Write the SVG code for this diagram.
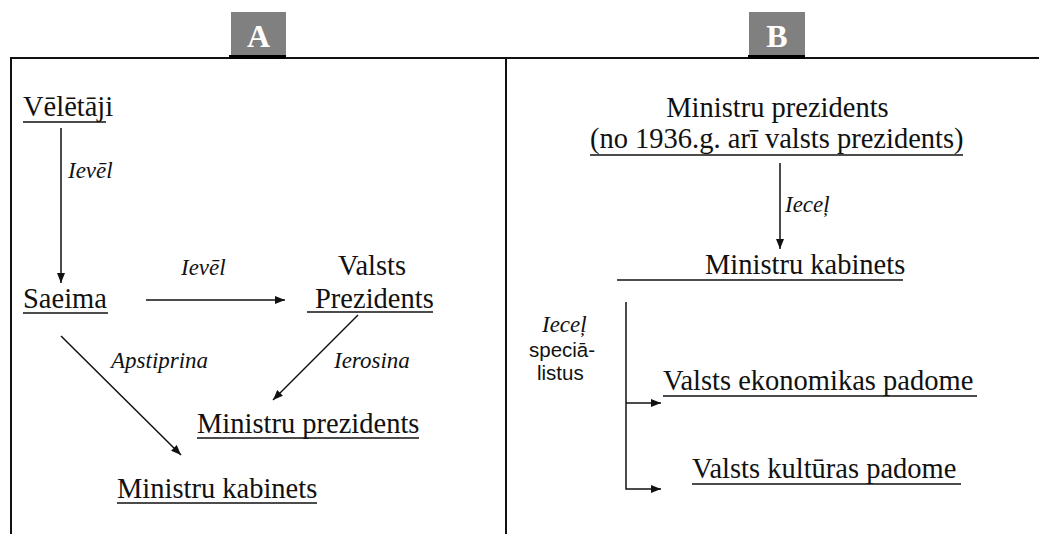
<svg xmlns="http://www.w3.org/2000/svg" width="1039" height="534" viewBox="0 0 1039 534">
<defs>
<marker id="ah" viewBox="0 0 10 8" refX="10" refY="4" markerWidth="10" markerHeight="8" markerUnits="userSpaceOnUse" orient="auto">
<path d="M0,0 L10,4 L0,8 Z" fill="#111"/>
</marker>
</defs>
<style>
.t{font-family:"Liberation Serif","Times New Roman",serif;font-size:28.5px;fill:#111}
.i{font-family:"Liberation Serif","Times New Roman",serif;font-size:23px;font-style:italic;fill:#111}
.s{font-family:"Liberation Sans",Arial,sans-serif;font-size:20.5px;fill:#111}
.u{stroke:#111;stroke-width:1.6}
.c{stroke:#111;stroke-width:1.5;fill:none}
.f{stroke:#111;stroke-width:2;fill:none}
.tab{fill:#808080}
.tl{font-family:"Liberation Serif","Times New Roman",serif;font-size:32px;font-weight:bold;fill:#fff}
</style>
<rect width="1039" height="534" fill="#fff"/>
<g id="frame">
<line class="f" x1="10" y1="58" x2="1039" y2="58"/>
<line class="f" x1="11" y1="57" x2="11" y2="534"/>
<line class="f" x1="506" y1="57" x2="506" y2="534"/>
<rect class="tab" x="231" y="12" width="55" height="44"/>
<rect x="229" y="55" width="57" height="4" fill="#000"/>
<text class="tl" x="258.5" y="47" text-anchor="middle">A</text>
<rect class="tab" x="749" y="12" width="56" height="44"/>
<rect x="748" y="55" width="57" height="4" fill="#000"/>
<text class="tl" x="777" y="47" text-anchor="middle">B</text>
</g>
<g id="connectors">
<line class="c" x1="61" y1="128" x2="61" y2="283" marker-end="url(#ah)"/>
<line class="c" x1="146" y1="300" x2="285" y2="300" marker-end="url(#ah)"/>
<line class="c" x1="358" y1="315" x2="273" y2="400" marker-end="url(#ah)"/>
<line class="c" x1="61" y1="336" x2="181" y2="455" marker-end="url(#ah)"/>
<line class="c" x1="780" y1="163" x2="780" y2="249" marker-end="url(#ah)"/>
<polyline class="c" points="626,302 626,489 661,489" marker-end="url(#ah)"/>
<line class="c" x1="626" y1="403" x2="661" y2="403" marker-end="url(#ah)"/>
</g>
<g id="labels">
<text class="i" x="68" y="178">Ievēl</text>
<text class="i" x="181" y="275">Ievēl</text>
<text class="i" x="334" y="368">Ierosina</text>
<text class="i" x="111" y="368">Apstiprina</text>
<text class="i" x="785" y="212">Ieceļ</text>
<text class="i" x="542" y="332">Ieceļ</text>
<text class="s" x="529" y="357">speciā-</text>
<text class="s" x="537" y="380">listus</text>
</g>
<g id="node-veletaji">
<text class="t" x="23" y="116">Vēlētāji</text>
<line class="u" x1="23" y1="122" x2="106" y2="122"/>
</g>
<g id="node-saeima">
<text class="t" x="23" y="308">Saeima</text>
<line class="u" x1="23" y1="313" x2="108" y2="313"/>
</g>
<g id="node-valsts-prezidents">
<text class="t" x="372" y="275" text-anchor="middle">Valsts</text>
<text class="t" x="315" y="308">Prezidents</text>
<line class="u" x1="307" y1="312" x2="433" y2="312"/>
</g>
<g id="node-ministru-prezidents-a">
<text class="t" x="197" y="433">Ministru prezidents</text>
<line class="u" x1="197" y1="438" x2="419" y2="438"/>
</g>
<g id="node-ministru-kabinets-a">
<text class="t" x="117" y="498">Ministru kabinets</text>
<line class="u" x1="117" y1="503" x2="317" y2="503"/>
</g>
<g id="node-ministru-prezidents-b">
<text class="t" x="777.5" y="117" text-anchor="middle">Ministru prezidents</text>
<text class="t" x="590" y="148">(no 1936.g. arī valsts prezidents)</text>
<line class="u" x1="590" y1="155" x2="963" y2="155"/>
</g>
<g id="node-ministru-kabinets-b">
<text class="t" x="705" y="274">Ministru kabinets</text>
<line class="u" x1="617" y1="280" x2="903" y2="280"/>
</g>
<g id="node-ekonomikas">
<text class="t" x="663" y="390">Valsts ekonomikas padome</text>
<line class="u" x1="663" y1="396" x2="977" y2="396"/>
</g>
<g id="node-kulturas">
<text class="t" x="692" y="478">Valsts kultūras padome</text>
<line class="u" x1="692" y1="484" x2="961" y2="484"/>
</g>
</svg>
